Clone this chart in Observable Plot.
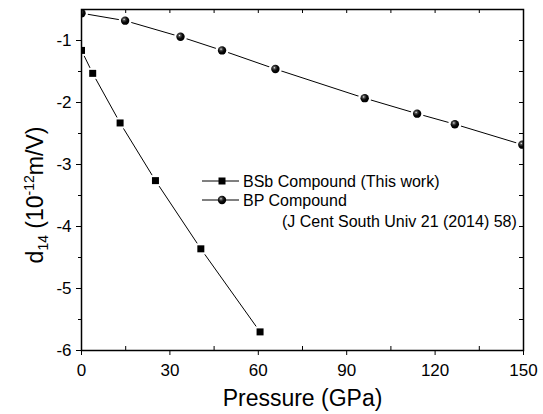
<!DOCTYPE html>
<html>
<head>
<meta charset="utf-8">
<script src="https://cdn.jsdelivr.net/npm/d3@7"></script>
<script src="https://cdn.jsdelivr.net/npm/@observablehq/plot@0.6"></script>
<style>
  body { margin: 0; background: white; }
  #chart { position: relative; width: 543px; height: 414px; }
</style>
</head>
<body>
<div id="chart"></div>
<script>
// Data
const pressureBSb = [0, 3.8, 13.1, 25.1, 40.5, 60.6];
const d14BSb = [-1.16, -1.53, -2.33, -3.26, -4.36, -5.70];
const pressureBP = [0, 14.8, 33.6, 47.7, 65.8, 96.1, 113.9, 126.7, 149.6];
const d14BP = [-0.56, -0.68, -0.94, -1.16, -1.46, -1.93, -2.18, -2.35, -2.68];

const xMajorTicks = [0, 30, 60, 90, 120, 150];
const xMinorTicks = [15, 45, 75, 105, 135];
const yMajorTicks = [-1, -2, -3, -4, -5, -6];
const yMinorTicks = [-1.5, -2.5, -3.5, -4.5, -5.5];

const seriesNames = ["BSb Compound (This work)", "BP Compound", "(J Cent South Univ 21 (2014) 58)"];
const xTitle = "Pressure (GPa)";

const bsb = pressureBSb.map((p, i) => ({p, d: d14BSb[i]}));
const bp = pressureBP.map((p, i) => ({p, d: d14BP[i]}));

const W = 543, H = 414;
const mL = 81, mR = 20, mT = 9, mB = 64;
const plotW = W - mL - mR, plotH = H - mT - mB;
const font = "'Liberation Sans', Arial, Helvetica, sans-serif";

const chart = Plot.plot({
  width: W,
  height: H,
  marginLeft: mL,
  marginRight: mR,
  marginTop: mT,
  marginBottom: mB,
  style: {fontFamily: font, background: "white", color: "black"},
  x: {domain: [0, 150]},
  y: {domain: [-6, -0.5]},
  marks: [
    Plot.line(bsb, {x: "p", y: "d", stroke: "black", strokeWidth: 1}),
    Plot.line(bp, {x: "p", y: "d", stroke: "black", strokeWidth: 1}),
    Plot.dot(bsb, {x: "p", y: "d", symbol: "square", r: 6.2, fill: "white", clip: true}),
    Plot.dot(bp, {x: "p", y: "d", r: 6.5, fill: "white", clip: true}),
    Plot.dot(bsb, {x: "p", y: "d", symbol: "square", r: 3.95, fill: "black", clip: true}),
    Plot.dot(bp, {x: "p", y: "d", r: 4.2, fill: "url(#sphere)", clip: true}),
    Plot.ruleX(xMinorTicks, {x: d => d, insetTop: plotH - 4, stroke: "black"}),
    Plot.ruleX(xMajorTicks.concat(xMinorTicks), {x: d => d, insetBottom: plotH - 4, stroke: "black"}),
    Plot.ruleY(yMajorTicks.concat(yMinorTicks), {y: d => d, insetLeft: plotW - 4, stroke: "black"}),
    Plot.axisX({ticks: xMajorTicks, tickSize: 5, tickPadding: 8, fontSize: 17, tickFormat: d => String(d), label: null}),
    Plot.axisY({ticks: yMajorTicks, tickSize: 5, tickPadding: 5, fontSize: 17, tickFormat: d => String(d), label: null}),
    Plot.axisY({ticks: yMinorTicks, tickSize: 3, tickFormat: null, text: null, label: null}),
    Plot.text([xTitle], {frameAnchor: "bottom", dy: 48, fontSize: 23, lineAnchor: "middle", fill: "black"}),
    Plot.frame({stroke: "black", strokeWidth: 1.5})
  ]
});

document.getElementById("chart").appendChild(chart);

const svg = d3.select(chart);
const defs = svg.insert("defs", ":first-child");
const g = defs.append("radialGradient").attr("id", "sphere")
  .attr("cx", "0.38").attr("cy", "0.35").attr("r", "0.6");
g.append("stop").attr("offset", "0%").attr("stop-color", "#f0f0f0");
g.append("stop").attr("offset", "22%").attr("stop-color", "#555555");
g.append("stop").attr("offset", "60%").attr("stop-color", "#0a0a0a");
g.append("stop").attr("offset", "100%").attr("stop-color", "#000000");

// y-axis label with subscript/superscript
const yl = svg.append("text")
  .attr("transform", "translate(43,195) rotate(-90)")
  .attr("text-anchor", "middle")
  .attr("font-family", font)
  .attr("font-size", 23)
  .attr("fill", "black");
yl.append("tspan").text("d");
yl.append("tspan").attr("font-size", 14).attr("dy", 5).text("14");
yl.append("tspan").attr("dy", -5).text(" (10");
yl.append("tspan").attr("font-size", 14).attr("dy", -9).text("-12");
yl.append("tspan").attr("dy", 9).text("m/V)");

// legend
const lg = svg.append("g").attr("font-family", font).attr("font-size", 16)
  .attr("fill", "black").attr("text-anchor", "start");
const rows = [181, 200];
rows.forEach((ry, i) => {
  lg.append("line").attr("x1", 202).attr("x2", 239).attr("y1", ry).attr("y2", ry)
    .attr("stroke", "black").attr("stroke-width", 1);
  if (i === 0) {
    lg.append("rect").attr("x", 222 - 3.5).attr("y", ry - 3.5).attr("width", 7).attr("height", 7).attr("fill", "black");
  } else {
    lg.append("circle").attr("cx", 222).attr("cy", ry).attr("r", 4.2).attr("fill", "url(#sphere)");
  }
  lg.append("text").attr("x", 243).attr("y", ry).attr("dy", "0.35em").attr("text-anchor", "start").text(seriesNames[i]);
});
lg.append("text").attr("x", 282).attr("y", 221).attr("dy", "0.35em").attr("text-anchor", "start").text(seriesNames[2]);
</script>
</body>
</html>
